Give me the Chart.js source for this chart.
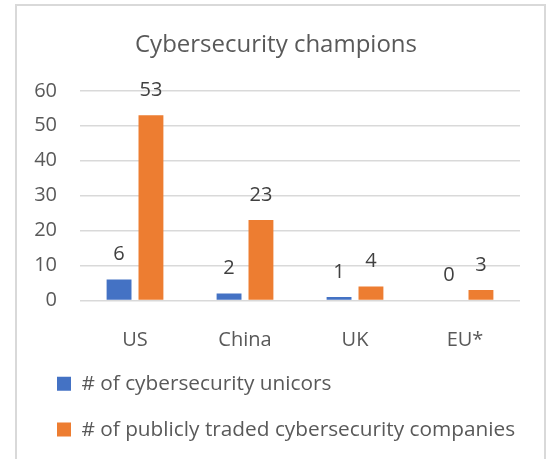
<!DOCTYPE html>
<html>
<head>
<meta charset="utf-8">
<script src="https://cdn.jsdelivr.net/npm/chart.js@4.4.1/dist/chart.umd.min.js"></script>
<style>
  body { margin: 0; background: #ffffff; }
  #frame {
    position: absolute;
    left: 15px;
    top: 4px;
    width: 531px;
    height: 480px;
    border: 2px solid #d9d9d9;
    box-sizing: border-box;
  }
  #myChart { position: absolute; left: 17px; top: 6px; }
</style>
</head>
<body>
<div id="frame"></div>
<canvas id="myChart" width="526" height="444"></canvas>
<script>
// Chart data
const categories = ["US", "China", "UK", "EU*"];
const unicorns = [6, 2, 1, 0];
const publicCompanies = [53, 23, 4, 3];
const seriesNames = [
  "# of cybersecurity unicors",
  "# of publicly traded cybersecurity companies",
];
const yTicks = [0, 10, 20, 30, 40, 50, 60];

const FONT = "'Open Sans', Lato, sans-serif";

// draws the value above each bar
const valueLabels = {
  id: "value_labels",
  afterDatasetsDraw(chart) {
    const { ctx } = chart;
    ctx.save();
    ctx.font = "20px " + FONT;
    ctx.fillStyle = "#404040";
    ctx.textAlign = "center";
    ctx.textBaseline = "middle";
    chart.data.datasets.forEach((dataset, di) => {
      const meta = chart.getDatasetMeta(di);
      meta.data.forEach((bar, i) => {
        ctx.fillText(String(dataset.data[i]), bar.x, bar.y - 25);
      });
    });
    ctx.restore();
  },
};

const ctx = document.getElementById("myChart");

new Chart(ctx, {
  type: "bar",
  data: {
    labels: categories,
    datasets: [
      {
        label: seriesNames[0],
        data: unicorns,
        backgroundColor: "#4472C4",
        categoryPercentage: 0.58,
        barPercentage: 0.78,
      },
      {
        label: seriesNames[1],
        data: publicCompanies,
        backgroundColor: "#ED7D31",
        categoryPercentage: 0.58,
        barPercentage: 0.78,
      },
    ],
  },
  options: {
    responsive: false,
    animation: false,
    devicePixelRatio: 1,
    layout: {
      padding: { left: 15, right: 23, top: 0, bottom: 0 },
    },
    scales: {
      x: {
        grid: { display: false },
        border: { display: false },
        ticks: {
          color: "#595959",
          font: { family: FONT, size: 20 },
          padding: 20,
        },
        afterFit(scale) {
          scale.height = 48;
        },
      },
      y: {
        min: 0,
        max: 60,
        afterBuildTicks(scale) {
          scale.ticks = yTicks.map((v) => ({ value: v }));
        },
        grid: {
          color: "#d9d9d9",
          lineWidth: 1.5,
          drawTicks: false,
        },
        border: { display: false },
        ticks: {
          color: "#595959",
          font: { family: FONT, size: 20 },
          padding: 23,
        },
        afterFit(scale) {
          scale.width = 48;
        },
      },
    },
    plugins: {
      title: {
        display: true,
        text: "Cybersecurity champions",
        color: "#595959",
        font: { family: FONT, size: 24, weight: "normal" },
        padding: { top: 25, bottom: 31 },
      },
      legend: {
        display: true,
        position: "bottom",
        align: "start",
        labels: {
          boxWidth: 14,
          boxHeight: 14,
          padding: 25,
          color: "#595959",
          font: { family: FONT, size: 20.8 },
        },
      },
      tooltip: { enabled: false },
    },
  },
  plugins: [valueLabels],
});
</script>
</body>
</html>
